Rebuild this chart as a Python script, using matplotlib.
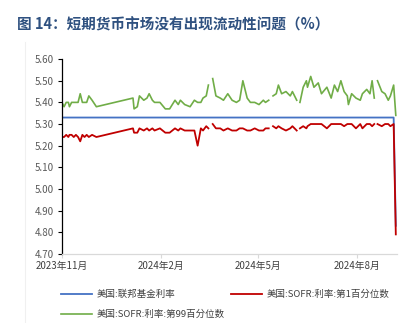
import matplotlib
matplotlib.use("Agg")
import matplotlib.pyplot as plt
import matplotlib.dates as mdates
import pandas as pd
import numpy as np

plt.rcParams['font.family'] = ['Noto Sans CJK SC', 'DejaVu Sans']

# data (None = gap in the series)
dates = ['2023-11-01', '2023-11-03', '2023-11-05', '2023-11-07', '2023-11-08', '2023-11-10',
         '2023-11-12', '2023-11-14', '2023-11-16', '2023-11-18', '2023-11-20', '2023-11-22',
         '2023-11-24', '2023-11-26', '2023-11-29', '2023-12-03', '2024-01-06', '2024-01-07',
         '2024-01-10', '2024-01-12', '2024-01-16', '2024-01-19', '2024-01-21', '2024-01-24',
         '2024-01-26', '2024-01-31', '2024-02-05', '2024-02-09', '2024-02-14', '2024-02-17',
         '2024-02-19', '2024-02-23', '2024-02-28', '2024-03-03', '2024-03-06', '2024-03-09',
         '2024-03-11', '2024-03-14', '2024-03-16', '2024-03-17', '2024-03-20', '2024-03-23',
         '2024-03-27', '2024-03-30', '2024-04-03', '2024-04-07', '2024-04-11', '2024-04-14',
         '2024-04-17', '2024-04-21', '2024-04-24', '2024-04-28', '2024-05-02', '2024-05-06',
         '2024-05-08', '2024-05-11', '2024-05-13', '2024-05-15', '2024-05-18', '2024-05-20',
         '2024-05-23', '2024-05-27', '2024-05-31', '2024-06-02', '2024-06-06', '2024-06-07',
         '2024-06-09', '2024-06-12', '2024-06-15', '2024-06-16', '2024-06-19', '2024-06-22',
         '2024-06-26', '2024-06-29', '2024-07-04', '2024-07-08', '2024-07-11', '2024-07-14',
         '2024-07-17', '2024-07-20', '2024-07-23', '2024-07-24', '2024-07-27', '2024-07-31',
         '2024-08-04', '2024-08-06', '2024-08-10', '2024-08-13', '2024-08-15', '2024-08-17',
         '2024-08-19', '2024-08-20', '2024-08-24', '2024-08-27', '2024-08-30', '2024-09-01',
         '2024-09-04', '2024-09-06']

sofr_p99 = [5.40, 5.38, 5.40, 5.40, 5.38, 5.40, 5.40, 5.40, 5.40, 5.44, 5.40, 5.40,
            5.40, 5.43, 5.41, 5.38, 5.42, 5.37, 5.38, 5.43, 5.41, 5.42, 5.44, 5.41,
            5.40, 5.40, 5.37, 5.37, 5.41, 5.39, 5.41, 5.39, 5.38, 5.41, 5.40, 5.40,
            5.42, 5.43, 5.48, None, 5.51, 5.43, 5.42, 5.41, 5.44, 5.41, 5.40, 5.41,
            5.50, 5.42, 5.40, 5.40, 5.39, 5.41, 5.40, 5.41, None, 5.43, 5.44, 5.48,
            5.44, 5.45, 5.43, 5.45, 5.41, None, 5.40, 5.47, 5.50, 5.47, 5.52, 5.47,
            5.49, 5.44, 5.47, 5.42, 5.48, 5.45, 5.50, 5.45, 5.43, 5.39, 5.44, 5.42,
            5.41, 5.44, 5.46, 5.44, 5.50, 5.42, None, 5.50, 5.45, 5.44, 5.41, 5.43,
            5.48, 5.34]

sofr_p1 = [5.24, 5.24, 5.25, 5.24, 5.25, 5.25, 5.24, 5.25, 5.24, 5.22, 5.25, 5.24,
           5.25, 5.24, 5.25, 5.24, 5.28, 5.26, 5.26, 5.28, 5.27, 5.28, 5.27, 5.28,
           5.27, 5.28, 5.26, 5.26, 5.28, 5.27, 5.28, 5.27, 5.27, 5.27, 5.20, 5.28,
           5.27, 5.29, 5.28, None, 5.30, 5.28, 5.28, 5.27, 5.28, 5.27, 5.27, 5.28,
           5.28, 5.27, 5.27, 5.28, 5.27, 5.27, 5.28, 5.28, None, 5.29, 5.28, 5.29,
           5.28, 5.27, 5.28, 5.29, 5.27, None, 5.28, 5.29, 5.28, 5.29, 5.30, 5.30,
           5.30, 5.30, 5.28, 5.30, 5.30, 5.30, 5.30, 5.29, 5.30, 5.30, 5.30, 5.28,
           5.30, 5.28, 5.30, 5.30, 5.29, 5.30, None, 5.30, 5.29, 5.30, 5.30, 5.29,
           5.30, 4.79]

fed_funds = [5.33] * (len(dates) - 1) + [4.83]

x = pd.to_datetime(dates)
p99 = np.array([np.nan if v is None else v for v in sofr_p99])
p1 = np.array([np.nan if v is None else v for v in sofr_p1])

fig = plt.figure(figsize=(4.10, 3.23), dpi=100)
ax = fig.add_axes([0.151, 0.214, 0.817, 0.603])

ax.plot(x, fed_funds, color='#4472C4', lw=1.3, label='美国:联邦基金利率')
ax.plot(x, p99, color='#70AD47', lw=1.2, label='美国:SOFR:利率:第99百分位数')
ax.plot(x, p1, color='#C00000', lw=1.3, label='美国:SOFR:利率:第1百分位数')

ax.set_ylim(4.70, 5.60)
ax.set_yticks(np.arange(4.70, 5.601, 0.10))
ax.yaxis.set_major_formatter(matplotlib.ticker.FormatStrFormatter('%.2f'))
ax.set_xlim(pd.Timestamp('2023-11-01'), pd.Timestamp('2024-09-07'))
ax.set_xticks(pd.to_datetime(['2023-11-01', '2024-02-01', '2024-05-01', '2024-08-01']))
ax.xaxis.set_major_formatter(mdates.DateFormatter('%Y年%-m月'))

for s in ['top', 'right']:
    ax.spines[s].set_visible(False)
ax.spines['left'].set_color('black')
ax.spines['left'].set_linewidth(0.9)
ax.spines['bottom'].set_color('#d9d9d9')
ax.spines['bottom'].set_linewidth(0.9)
ax.tick_params(axis='y', labelsize=7, colors='black', labelcolor='#595959', length=3, width=0.8, pad=3)
ax.tick_params(axis='x', labelsize=7, color='#d9d9d9', labelcolor='#404040', length=3, width=0.8, pad=2)

leg = fig.legend(loc='upper left', bbox_to_anchor=(0.14, 0.115), ncol=2, frameon=False,
                 fontsize=6.8, handlelength=3.3, columnspacing=0.6, handletextpad=0.5,
                 labelspacing=1.15, borderaxespad=0)
for t in leg.get_texts():
    t.set_color('#404040')

fig.text(0.041, 0.925, '图 14：短期货币市场没有出现流动性问题（%）', fontsize=10.5,
         fontweight='bold', color='#2F5180', va='center', ha='left')
fig.add_artist(plt.Line2D([0.061, 0.061], [0.0, 0.87], color='#f0f0f0', lw=0.8))

fig.savefig('out.png', dpi=100)
